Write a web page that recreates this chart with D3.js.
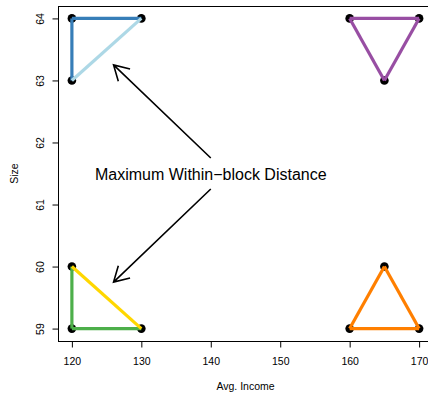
<!DOCTYPE html>
<html>
<head>
<meta charset="utf-8">
<script src="https://cdn.jsdelivr.net/npm/d3@7"></script>
<style>
  body { margin: 0; background: #fff; }
  svg { display: block; font-family: "Liberation Sans", Arial, sans-serif; }
</style>
</head>
<body>
<div id="chart-area"></div>
<script>
// blocks: three points each (income, size)
var blockIncome = [[120, 130, 120], [160, 170, 165], [120, 130, 120], [160, 170, 165]];
var blockSize = [[64, 64, 63], [64, 64, 63], [60, 59, 59], [59, 59, 60]];
// edges between points of a block, and their colours
var blockEdges = [
    [[0, 1], [0, 2], [1, 2]],
    [[0, 1], [0, 2], [1, 2]],
    [[0, 2], [2, 1], [0, 1]],
    [[0, 1], [0, 2], [1, 2]]
];
var edgeColors = [
    ["#377EB8", "#377EB8", "#ADD8E6"],
    ["#984EA3", "#984EA3", "#984EA3"],
    ["#4DAF4A", "#4DAF4A", "#FFD700"],
    ["#FF7F00", "#FF7F00", "#FF7F00"]
];
var xTicks = [120, 130, 140, 150, 160, 170];
var yTicks = [59, 60, 61, 62, 63, 64];
var annotation = "Maximum Within\u2212block Distance";
var annoPos = [140, 61.5];
var arrowList = [[140, 61.75, 126, 63.25], [140, 61.25, 126, 59.75]];

var W = 428, H = 393;
var margin = { left: 58, top: 6 };
var width = 375, height = 335;

var svg = d3.select("#chart-area")
    .append("svg")
    .attr("width", W)
    .attr("height", H);

var g = svg.append("g")
    .attr("transform", "translate(" + margin.left + "," + margin.top + ")");

var x = d3.scaleLinear().domain([118, 172]).range([0, width]);
var y = d3.scaleLinear().domain([58.8, 64.2]).range([height, 0]);

// box
g.append("rect")
    .attr("x", 0.5).attr("y", 0.5)
    .attr("width", width).attr("height", height)
    .attr("fill", "none")
    .attr("stroke", "#000")
    .attr("stroke-width", 1);

// X axis
var xAxis = g.append("g")
    .attr("transform", "translate(0," + (height + 0.5) + ")")
    .call(d3.axisBottom(x).tickValues(xTicks).tickSize(6).tickPadding(10)
        .tickFormat(d3.format("d")));
xAxis.selectAll("text").attr("font-size", "10.5px").attr("fill", "#000")
    .attr("font-family", "Liberation Sans, Arial, sans-serif");

// Y axis
var yAxis = g.append("g")
    .attr("transform", "translate(0.5,0)")
    .call(d3.axisLeft(y).tickValues(yTicks).tickSize(6).tickPadding(10)
        .tickFormat(d3.format("d")));
yAxis.selectAll("text")
    .attr("font-size", "10.5px").attr("fill", "#000")
    .attr("font-family", "Liberation Sans, Arial, sans-serif")
    .attr("text-anchor", "middle")
    .attr("x", null).attr("dy", null)
    .attr("transform", "translate(-15,0) rotate(-90)");
g.selectAll(".domain").remove();
g.selectAll(".tick line").attr("stroke", "#000");

// axis titles
svg.append("text")
    .attr("x", margin.left + width / 2)
    .attr("y", 390)
    .attr("text-anchor", "middle")
    .attr("font-size", "10.5px")
    .text("Avg. Income");

svg.append("text")
    .attr("transform", "translate(18," + (margin.top + height / 2) + ") rotate(-90)")
    .attr("text-anchor", "middle")
    .attr("font-size", "10.5px")
    .text("Size");

// points
blockIncome.forEach(function (xs, b) {
    g.selectAll(".pt" + b)
        .data(xs)
        .enter()
        .append("circle")
        .attr("cx", function (d) { return x(d); })
        .attr("cy", function (d, i) { return y(blockSize[b][i]); })
        .attr("r", 4.3)
        .attr("fill", "#000");
});

// edges
blockEdges.forEach(function (edges, b) {
    g.selectAll(".edge" + b)
        .data(edges)
        .enter()
        .append("line")
        .attr("x1", function (e) { return x(blockIncome[b][e[0]]); })
        .attr("y1", function (e) { return y(blockSize[b][e[0]]); })
        .attr("x2", function (e) { return x(blockIncome[b][e[1]]); })
        .attr("y2", function (e) { return y(blockSize[b][e[1]]); })
        .attr("stroke", function (e, i) { return edgeColors[b][i]; })
        .attr("stroke-width", 3.2);
});

// annotation
g.append("text")
    .attr("x", x(annoPos[0]))
    .attr("y", y(annoPos[1]) + 6)
    .attr("text-anchor", "middle")
    .attr("font-size", "16px")
    .text(annotation);

// arrows
var headLen = 17, headAng = Math.PI / 6;
arrowList.forEach(function (a) {
    var x0 = x(a[0]), y0 = y(a[1]), x1 = x(a[2]), y1 = y(a[3]);
    var ang = Math.atan2(y0 - y1, x0 - x1);
    var p = "M" + x0 + "," + y0 + "L" + x1 + "," + y1 +
        "M" + (x1 + headLen * Math.cos(ang + headAng)) + "," + (y1 + headLen * Math.sin(ang + headAng)) +
        "L" + x1 + "," + y1 +
        "L" + (x1 + headLen * Math.cos(ang - headAng)) + "," + (y1 + headLen * Math.sin(ang - headAng));
    g.append("path")
        .attr("d", p)
        .attr("fill", "none")
        .attr("stroke", "#000")
        .attr("stroke-width", 1.6);
});
</script>
</body>
</html>
